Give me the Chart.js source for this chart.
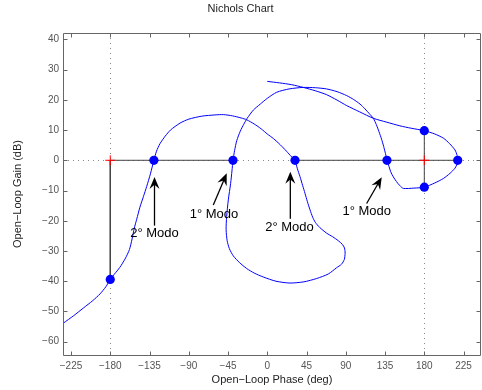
<!DOCTYPE html>
<html>
<head>
<meta charset="utf-8">
<script src="https://cdn.jsdelivr.net/npm/chart.js@4.4.1/dist/chart.umd.min.js"></script>
<style>
  body { margin: 0; background: #fff; }
  canvas { display: block; }
</style>
</head>
<body>
<canvas id="nichols" width="482" height="390"></canvas>
<script>
// open-loop response (phase in deg, gain in dB)
const curvePhase = [
  -234, -222, -211, -200, -191.8, -185, -180, -174, -169, -163, -158, -155, -152.5, -149.7, -146, -142, -138.3, -134, -130,
  -127, -123, -117, -111, -100, -90, -75, -60, -50, -40, -30, -23.6, -15, -7, 0, 7, 15, 22, 28, 31.8,
  34.5, 37.5, 40.5, 43.2, 46, 49, 52, 55, 60, 68, 75, 81.4, 86, 88.5, 89.2, 88.3, 85, 79.6, 70, 56.6, 42, 26, 10, -4.6,
  -15, -23.6, -32, -39, -43.5, -46, -47.2, -46.6, -44.7, -42, -40.5, -39.3,
  -37.5, -35, -31, -27, -23, -16, -8, 0, 10.8, 25, 41, 55, 68, 80, 91, 99, 106.3, 112, 117, 121.5, 125, 128, 131, 133.5, 135.5, 137.2,
  139.5, 141.5, 144.5, 148, 152, 156, 168, 180, 192, 202, 209.5, 215.2, 217.6, 218.3, 217.6, 215.2, 209, 202, 192, 180,
  165, 152, 137, 121.5, 106, 91, 80, 68, 55, 41.3, 28, 14, 0
];
const curveGain = [
  -53.9, -51.4, -48.9, -46.4, -44.2, -41.8, -39.4, -37.2, -35.4, -32.6, -29.5, -26, -22.5, -19.5, -15.5, -12, -8.7, -4.5, 0,
  3, 5.5, 8, 10, 12.3, 13.6, 14.6, 15, 15.1, 14.7, 14, 13.4, 12, 10.4, 8.7, 7.2, 5.1, 3, 1.1, 0,
  -2.8, -5.4, -8.3, -10.9, -13.7, -16.4, -18.8, -20.5, -22.2, -24.1, -25.3, -26.6, -27.8, -29, -30.7, -32.8, -34.4, -35.5, -37.6, -39.1, -40.2, -40.6, -40, -38.6,
  -37.3, -35.8, -33.8, -31.6, -29.2, -26.6, -23, -18.6, -13.1, -7.6, -3.5, 0,
  3.2, 6.5, 9.6, 11.9, 13.9, 16.6, 18.6, 20.5, 22.5, 23.6, 24.1, 24.0, 23.6, 22.7, 21.4, 20.1, 18.6, 17, 15.4, 13.9, 11.8, 9.5, 7, 4.5, 2.2, 0,
  -2, -3.8, -5.5, -7, -8.4, -9.3, -9.2, -8.9, -7.5, -6, -4.3, -2.6, -1.2, 0, 1.6, 3.4, 5.5, 7.3, 8.7, 9.8,
  10.6, 11.4, 12.6, 13.9, 16, 18.1, 19.9, 21.7, 23.0, 24.1, 25, 25.6, 26.1
];

// stability margin points
const marginPhase = [-180, -130, -39.3, 31.8, 137.2, 180, 180, 218.3];
const marginGain = [-39.4, 0, 0, 0, 0, 9.8, -8.9, 0];

// critical points
const critPhase = [-180, 180];
const critGain = [0, 0];

// margin guide segments [phase1, gain1, phase2, gain2]
const guideSegs = [
  [-180, 0, -180, -39.4],
  [-180, 0, -39.3, 0],
  [31.8, 0, 218.3, 0],
  [180, -8.9, 180, 9.8]
];

// annotations: text position, arrow tail, arrow tip
const noteText = ['2° Modo', '1° Modo', '2° Modo', '1° Modo'];
const noteTextPhase = [-129.3, -61.1, 25.5, 114.0];
const noteTextGain = [-24.2, -18.0, -22.2, -17.0];
const noteTailPhase = [-129.3, -61.9, 26.4, 113.9];
const noteTailGain = [-21.6, -14.8, -19.3, -14.3];
const noteTipPhase = [-129.3, -46.5, 26.4, 131.2];
const noteTipGain = [-5.5, -4.3, -3.8, -5.6];

const xTicks = [-225, -180, -135, -90, -45, 0, 45, 90, 135, 180, 225];
const yTicks = [-60, -50, -40, -30, -20, -10, 0, 10, 20, 30, 40];
const gridPhase = [-180, 180];
const gridGain = [0];

const fontFam = '"Liberation Sans", Arial, Helvetica, sans-serif';
const fmt = v => (v < 0 ? '\u2212' + Math.abs(v) : '' + v);

let guideData = [];
guideSegs.forEach(s => {
  guideData.push({x: s[0], y: s[1]}, {x: s[2], y: s[3]}, {x: null, y: null});
});

const boxPlugin = {
  id: 'box',
  beforeDatasetsDraw(chart) {
    const {ctx, chartArea: a, scales: {x, y}} = chart;
    ctx.save();
    ctx.strokeStyle = '#8a8a8a';
    ctx.lineWidth = 1;
    ctx.setLineDash([1, 4]);
    gridPhase.forEach(p => {
      const px = Math.round(x.getPixelForValue(p)) + 0.5;
      ctx.beginPath(); ctx.moveTo(px, a.top); ctx.lineTo(px, a.bottom); ctx.stroke();
    });
    gridGain.forEach(g => {
      const py = Math.round(y.getPixelForValue(g)) + 0.5;
      ctx.beginPath(); ctx.moveTo(a.left, py); ctx.lineTo(a.right, py); ctx.stroke();
    });
    ctx.restore();
  },
  afterDraw(chart) {
    const {ctx, chartArea: a, scales: {x, y}} = chart;
    ctx.save();
    // box and inward ticks
    ctx.strokeStyle = '#666';
    ctx.lineWidth = 1;
    const L = Math.round(a.left) + 0.5, R = Math.round(a.right) - 0.5;
    const T = Math.round(a.top) + 0.5, B = Math.round(a.bottom) + 0.5;
    ctx.beginPath();
    ctx.moveTo(L, T); ctx.lineTo(R, T); ctx.lineTo(R, B); ctx.lineTo(L, B); ctx.closePath();
    xTicks.forEach(v => {
      const px = Math.round(x.getPixelForValue(v)) + 0.5;
      ctx.moveTo(px, B); ctx.lineTo(px, B - 4);
      ctx.moveTo(px, T); ctx.lineTo(px, T + 4);
    });
    yTicks.forEach(v => {
      const py = Math.round(y.getPixelForValue(v)) + 0.5;
      ctx.moveTo(L, py); ctx.lineTo(L + 4, py);
      ctx.moveTo(R, py); ctx.lineTo(R - 4, py);
    });
    ctx.stroke();

    // annotations
    ctx.fillStyle = '#000';
    ctx.strokeStyle = '#000';
    ctx.lineWidth = 1.3;
    for (let i = 0; i < noteText.length; i++) {
      const x0 = x.getPixelForValue(noteTailPhase[i]), y0 = y.getPixelForValue(noteTailGain[i]);
      const x1 = x.getPixelForValue(noteTipPhase[i]), y1 = y.getPixelForValue(noteTipGain[i]);
      const ang = Math.atan2(y1 - y0, x1 - x0);
      const hl = 12, hw = 5;
      const cx = Math.cos(ang), sy = Math.sin(ang);
      ctx.beginPath();
      ctx.moveTo(x0, y0);
      ctx.lineTo(x1 - cx * hl * 0.6, y1 - sy * hl * 0.6);
      ctx.stroke();
      ctx.beginPath();
      ctx.moveTo(x1, y1);
      ctx.lineTo(x1 - cx * hl - sy * hw, y1 - sy * hl + cx * hw);
      ctx.lineTo(x1 - cx * hl * 0.65, y1 - sy * hl * 0.65);
      ctx.lineTo(x1 - cx * hl + sy * hw, y1 - sy * hl - cx * hw);
      ctx.closePath();
      ctx.fill();

      ctx.font = '13px ' + fontFam;
      ctx.textAlign = 'center';
      ctx.textBaseline = 'middle';
      ctx.fillText(noteText[i], x.getPixelForValue(noteTextPhase[i]), y.getPixelForValue(noteTextGain[i]));
    }
    ctx.restore();
  }
};

new Chart(document.getElementById('nichols'), {
  type: 'scatter',
  data: {
    datasets: [
      {
        label: 'margins',
        data: marginPhase.map((p, i) => ({x: p, y: marginGain[i]})),
        pointRadius: 4.6,
        pointBackgroundColor: '#0000ff',
        pointBorderColor: '#0000ff',
        pointBorderWidth: 0,
        showLine: false
      },
      {
        label: 'critical',
        data: critPhase.map((p, i) => ({x: p, y: critGain[i]})),
        pointStyle: 'cross',
        pointRadius: 5,
        pointBorderColor: '#ff0000',
        pointBorderWidth: 1,
        showLine: false
      },
      {
        label: 'response',
        data: curvePhase.map((p, i) => ({x: p, y: curveGain[i]})),
        showLine: true,
        borderColor: '#0000ff',
        borderWidth: 1,
        pointRadius: 0,
        tension: 0.25
      },
      {
        label: 'guides',
        data: guideData,
        showLine: true,
        spanGaps: false,
        borderColor: '#444',
        borderWidth: 1,
        pointRadius: 0
      }
    ]
  },
  options: {
    responsive: false,
    animation: false,
    layout: { autoPadding: false, padding: { left: 0, right: 1, top: 0, bottom: 0 } },
    plugins: {
      legend: { display: false },
      tooltip: { enabled: false },
      title: {
        display: true,
        text: 'Nichols Chart',
        color: '#222',
        font: { family: fontFam, size: 11, weight: 'normal' },
        padding: { top: 2.4, bottom: 17.4 }
      }
    },
    scales: {
      x: {
        type: 'linear',
        min: -234.2,
        max: 245,
        afterFit(s) { s.height = 35; s.paddingLeft = 0; s.paddingRight = 0; },
        afterBuildTicks(s) { s.ticks = xTicks.map(v => ({value: v})); },
        grid: { display: false, drawTicks: false },
        border: { display: false },
        ticks: {
          autoSkip: false, maxRotation: 0, padding: 5,
          color: '#555',
          font: { family: fontFam, size: 10 },
          callback: v => fmt(v)
        },
        title: {
          display: true,
          text: 'Open\u2212Loop Phase (deg)',
          color: '#222',
          font: { family: fontFam, size: 11 },
          padding: { top: 0, bottom: 3.4 }
        }
      },
      y: {
        type: 'linear',
        min: -64.4,
        max: 42.1,
        afterFit(s) { s.width = 63; s.paddingTop = 0; s.paddingBottom = 0; },
        afterBuildTicks(s) { s.ticks = yTicks.map(v => ({value: v})); },
        grid: { display: false, drawTicks: false },
        border: { display: false },
        ticks: {
          autoSkip: false, padding: 4,
          color: '#555',
          font: { family: fontFam, size: 10 },
          callback: v => fmt(v)
        },
        title: {
          display: true,
          text: 'Open\u2212Loop Gain (dB)',
          color: '#222',
          font: { family: fontFam, size: 11 },
          padding: { top: 11.4, bottom: 0 }
        }
      }
    }
  },
  plugins: [boxPlugin]
});
</script>
</body>
</html>
